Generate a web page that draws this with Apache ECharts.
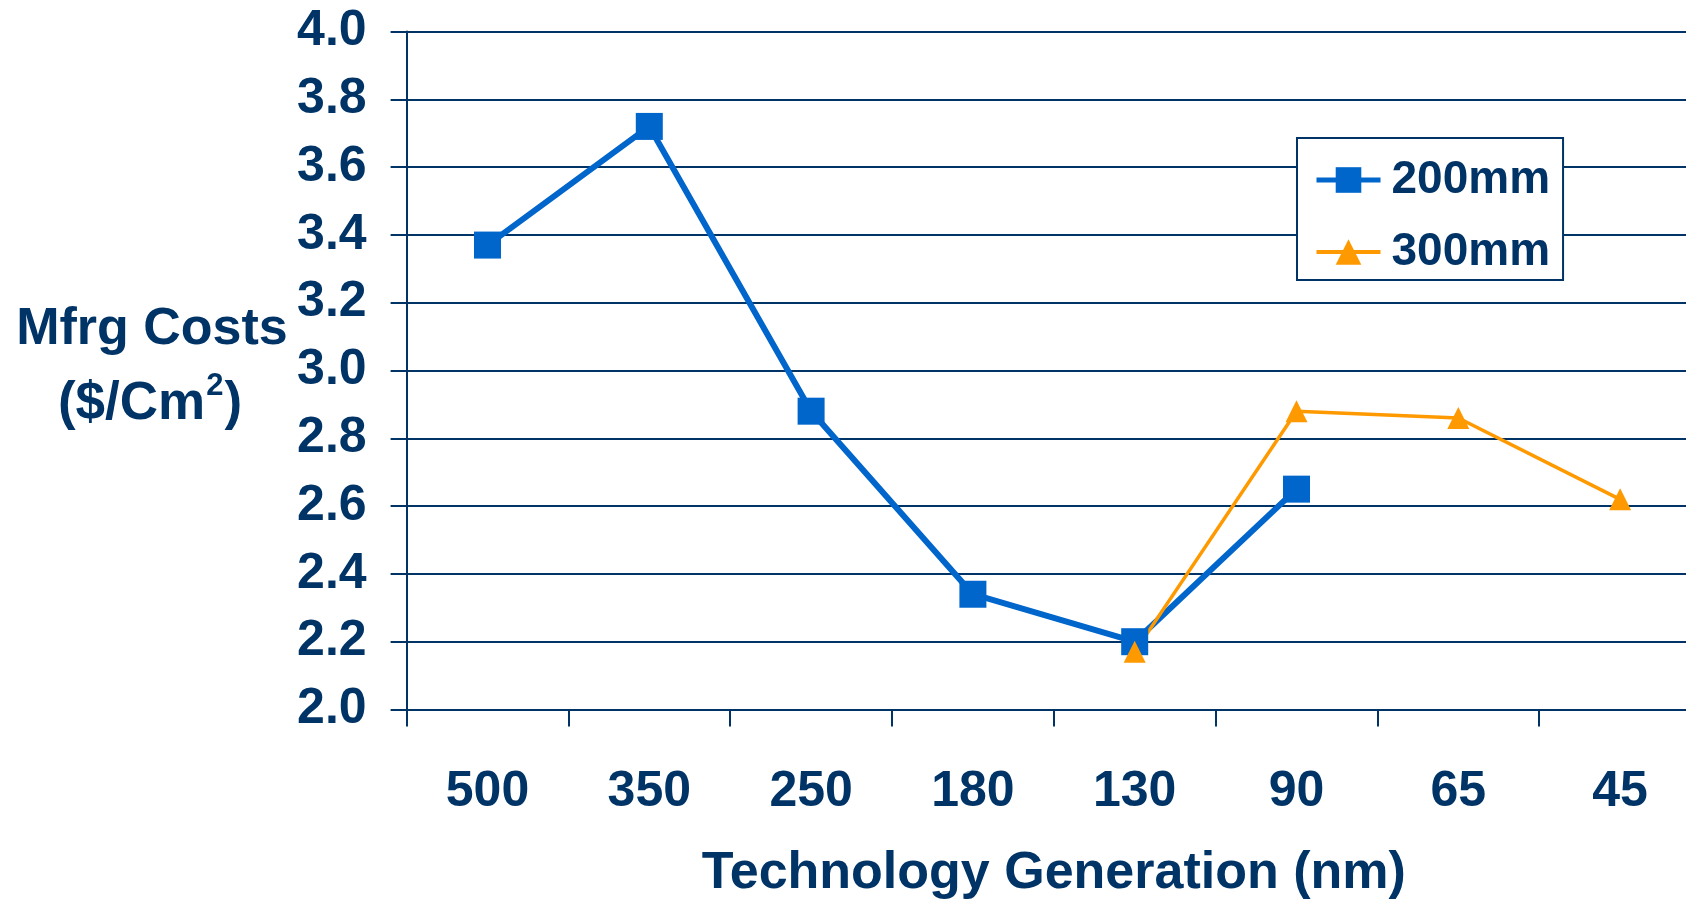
<!DOCTYPE html>
<html>
<head>
<meta charset="utf-8">
<title>Mfrg Costs by Technology Generation</title>
<script src="https://cdn.jsdelivr.net/npm/echarts@6/dist/echarts.min.js"></script>
<style>
  html, body { margin: 0; padding: 0; background: #ffffff; }
  #chart { width: 1686px; height: 901px; }
</style>
</head>
<body>
<div id="chart"></div>
<script>
// Technology nodes (nm) along the x axis
const generations = ['500', '350', '250', '180', '130', '90', '65', '45'];
// Manufacturing cost, $ per cm², per wafer size
const cost200mm = [3.37, 3.72, 2.88, 2.34, 2.20, 2.65, null, null];
const cost300mm = [null, null, null, null, 2.17, 2.88, 2.86, 2.62];
const seriesNames = ['200mm', '300mm'];

const NAVY = '#003366';
const FONT = '"Liberation Sans", Arial, sans-serif';

const chart = echarts.init(document.getElementById('chart'), null, { renderer: 'canvas' });

chart.setOption({
  animation: false,
  backgroundColor: '#ffffff',
  grid: {
    left: 406.6, top: 31.5, width: 1294.4, height: 678,
    containLabel: false,
    outerBoundsMode: 'none'
  },
  legend: {
    orient: 'vertical',
    left: 1297,
    top: 138,
    data: [
      { name: seriesNames[0], lineStyle: { width: 5 } },
      { name: seriesNames[1], lineStyle: { width: 4 } }
    ],
    backgroundColor: '#ffffff',
    borderColor: NAVY,
    borderWidth: 2,
    padding: [19, 13, 5, 17],
    itemGap: 26,
    itemWidth: 64,
    itemHeight: 32,
    textStyle: {
      fontFamily: FONT, fontWeight: 'bold', fontSize: 46, color: NAVY,
      padding: [0, 0, 0, 6]
    }
  },
  xAxis: {
    type: 'category',
    data: generations,
    boundaryGap: true,
    name: 'Technology Generation (nm)',
    nameLocation: 'middle',
    nameGap: 138,
    nameTextStyle: { fontFamily: FONT, fontWeight: 'bold', fontSize: 52, color: NAVY },
    axisLine: { show: true, lineStyle: { color: NAVY, width: 2 } },
    axisTick: { show: true, inside: false, length: 17, interval: 0, lineStyle: { color: NAVY, width: 2 } },
    axisLabel: { interval: 0, margin: 58, fontFamily: FONT, fontWeight: 'bold', fontSize: 50, color: NAVY },
    splitLine: { show: false }
  },
  yAxis: {
    type: 'value',
    min: 2.0,
    max: 4.0,
    interval: 0.2,
    axisLine: { show: true, lineStyle: { color: NAVY, width: 2 } },
    axisTick: { show: true, inside: false, length: 16, lineStyle: { color: NAVY, width: 2 } },
    axisLabel: {
      margin: 40, fontFamily: FONT, fontWeight: 'bold', fontSize: 50, color: NAVY,
      formatter: v => v.toFixed(1)
    },
    splitLine: { show: true, lineStyle: { color: NAVY, width: 2 } }
  },
  graphic: [
    {
      type: 'text',
      x: 152, y: 330,
      style: {
        text: 'Mfrg Costs',
        font: 'bold 52px ' + FONT,
        fill: NAVY,
        align: 'center',
        verticalAlign: 'middle'
      }
    },
    {
      type: 'text',
      x: 150, y: 404,
      style: {
        text: '($/Cm{sup|2})',
        font: 'bold 53px ' + FONT,
        fill: NAVY,
        align: 'center',
        verticalAlign: 'middle',
        rich: {
          sup: { font: 'bold 31px ' + FONT, fill: NAVY, verticalAlign: 'top', padding: [0, 1, 36, 1] }
        }
      }
    }
  ],
  series: [
    {
      name: seriesNames[0],
      type: 'line',
      data: cost200mm,
      connectNulls: false,
      symbol: 'rect',
      symbolSize: 27,
      showAllSymbol: true,
      itemStyle: { color: '#0066CC' },
      lineStyle: { color: '#0066CC', width: 6 }
    },
    {
      name: seriesNames[1],
      type: 'line',
      data: cost300mm,
      connectNulls: false,
      symbol: 'triangle',
      symbolSize: 22,
      showAllSymbol: true,
      itemStyle: { color: '#FF9900' },
      lineStyle: { color: '#FF9900', width: 3.5 }
    }
  ]
});
</script>
</body>
</html>
